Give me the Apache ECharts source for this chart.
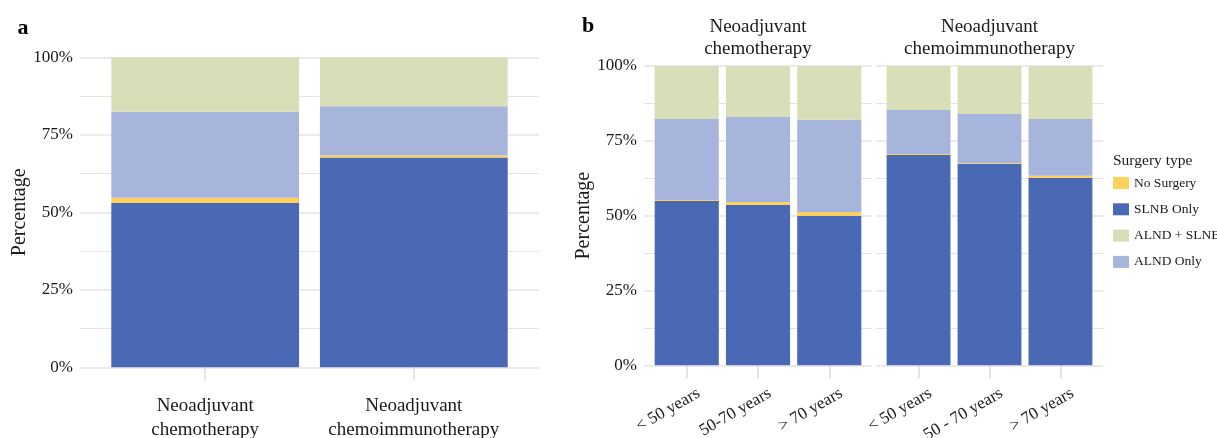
<!DOCTYPE html>
<html>
<head>
<meta charset="utf-8">
<script src="https://cdn.jsdelivr.net/npm/echarts@6/dist/echarts.min.js"></script>
<style>
html,body{margin:0;padding:0;background:#fff;}
#chart{width:1217px;height:438px;}
</style>
</head>
<body>
<div id="chart"></div>
<script>
// ---- Data ----
const surgeryTypes = ['No Surgery', 'SLNB Only', 'ALND + SLNB', 'ALND Only'];
const yTicks = [0, 25, 50, 75, 100];

// Panel a
const treatmentCats = ['Neoadjuvant\nchemotherapy', 'Neoadjuvant\nchemoimmunotherapy'];
const slnbA = [53.0, 67.7];
const noSurgeryA = [1.7, 0.7];
const alndOnlyA = [27.7, 15.8];
const alndSlnbA = [17.6, 15.8];

// Panel b
const facetTitles = ['Neoadjuvant\nchemotherapy', 'Neoadjuvant\nchemoimmunotherapy'];
const ageCatsChemo = ['< 50 years', '50-70 years', '> 70 years'];
const slnbChemo = [54.9, 53.6, 50.0];
const noSurgeryChemo = [0.3, 1.0, 1.2];
const alndOnlyChemo = [27.1, 28.4, 30.8];
const alndSlnbChemo = [17.7, 17.0, 18.0];

const ageCatsImmuno = ['< 50 years', '50 - 70 years', '> 70 years'];
const slnbImmuno = [70.3, 67.3, 62.6];
const noSurgeryImmuno = [0.3, 0.3, 0.7];
const alndOnlyImmuno = [14.7, 16.4, 19.0];
const alndSlnbImmuno = [14.7, 16.0, 17.7];

// ---- Styles ----
const FONT = 'Liberation Serif';
const colors = {
  'No Surgery': '#FFD15C',
  'SLNB Only': '#4A69B5',
  'ALND + SLNB': '#D8DFB8',
  'ALND Only': '#A7B5DC'
};
const textColor = '#1a1a1a';

const chart = echarts.init(document.getElementById('chart'), null, {renderer: 'canvas'});

function bgY(gridIndex, showLabels, showName, nameGap) {
  return {
    type: 'value', gridIndex: gridIndex, min: yTicks[0], max: yTicks[yTicks.length - 1], interval: 25,
    axisLine: {show: false}, axisTick: {show: false},
    axisLabel: {show: showLabels, formatter: '{value}%', fontFamily: FONT, fontSize: 17, color: textColor, margin: 7},
    splitLine: {show: true, lineStyle: {color: '#ebebeb', width: 2}},
    minorTick: {show: false, splitNumber: 2},
    minorSplitLine: {show: true, lineStyle: {color: '#e4e4e4', width: 1}},
    name: showName ? 'Percentage' : '', nameLocation: 'middle', nameGap: nameGap,
    nameTextStyle: {fontFamily: FONT, fontSize: 20, color: textColor}
  };
}
function barY(gridIndex) {
  return {type: 'value', gridIndex: gridIndex, min: 0, max: 100, show: false, splitLine: {show: false}};
}
function bgX(gridIndex) {
  return {type: 'value', gridIndex: gridIndex, min: 0, max: 1, show: false, splitLine: {show: false}};
}
function barX(gridIndex, cats, rotated) {
  const lbl = rotated
    ? {fontFamily: FONT, fontSize: 17, color: textColor, rotate: 30, margin: 24, align: 'right', verticalAlign: 'top', interval: 0, padding: [0, -9, 0, 0]}
    : {fontFamily: FONT, fontSize: 19, color: textColor, margin: 27, lineHeight: 23.5, interval: 0};
  return {
    type: 'category', gridIndex: gridIndex, data: cats, boundaryGap: true,
    axisLine: {show: false},
    axisTick: {show: true, alignWithLabel: true, length: 13, lineStyle: {color: '#dcdcdc', width: 1.5}},
    axisLabel: lbl,
    splitLine: {show: false}
  };
}

function makeSeries(axisIdx, slnb, noS, alndOnly, alndSlnb, stackId) {
  const order = [['SLNB Only', slnb], ['No Surgery', noS], ['ALND Only', alndOnly], ['ALND + SLNB', alndSlnb]];
  return order.map(([name, data]) => ({
    name: name, type: 'bar', stack: stackId,
    xAxisIndex: axisIdx, yAxisIndex: axisIdx,
    data: data, barWidth: '90%',
    itemStyle: {color: colors[name]},
    emphasis: {disabled: true},
    animation: false
  }));
}

// panel geometry (ggplot-like discrete expansion of 0.6 units)
const aLeft = 80, aWidth = 459, aTop = 57.3, aHeight = 310;
const aUnit = aWidth / (treatmentCats.length + 0.2);
const bTop = 66, bHeight = 299.3;
const b1Left = 644, b1Width = 228;
const b2Left = 876, b2Width = 227;
const b1Unit = b1Width / (ageCatsChemo.length + 0.2);
const b2Unit = b2Width / (ageCatsImmuno.length + 0.2);

function grid(left, top, width, height) {
  return {left: left, top: top, width: width, height: height, containLabel: false, outerBoundsMode: 'none'};
}

const option = {
  backgroundColor: '#fff',
  animation: false,
  title: [
    {text: 'a', left: 23, top: 17, padding: 0, textAlign: 'center', textStyle: {fontFamily: FONT, fontSize: 22, fontWeight: 'bold', color: '#000', lineHeight: 22}},
    {text: 'b', left: 588, top: 15.5, padding: 0, textAlign: 'center', textStyle: {fontFamily: FONT, fontSize: 22, fontWeight: 'bold', color: '#000', lineHeight: 22}},
    {text: facetTitles[0], left: b1Left + b1Width / 2, top: 15.5, padding: 0, textAlign: 'center', textStyle: {fontFamily: FONT, fontSize: 19, fontWeight: 'normal', color: textColor, lineHeight: 22.5}},
    {text: facetTitles[1], left: b2Left + b2Width / 2, top: 15.5, padding: 0, textAlign: 'center', textStyle: {fontFamily: FONT, fontSize: 19, fontWeight: 'normal', color: textColor, lineHeight: 22.5}},
    {text: 'Surgery type', left: 1113, top: 151.5, padding: 0, textStyle: {fontFamily: FONT, fontSize: 15.5, fontWeight: 'normal', color: textColor, lineHeight: 18}}
  ],
  legend: {
    orient: 'vertical', left: 1113, top: 176, padding: 0,
    data: surgeryTypes, icon: 'rect', itemWidth: 16, itemHeight: 12, itemGap: 12.3,
    textStyle: {fontFamily: FONT, fontSize: 13.5, color: textColor},
    selectedMode: false
  },
  grid: [
    grid(aLeft, aTop, aWidth, aHeight),
    grid(aLeft + 0.1 * aUnit, aTop, aUnit * treatmentCats.length, aHeight),
    grid(b1Left, bTop, b1Width, bHeight),
    grid(b1Left + 0.1 * b1Unit, bTop, b1Unit * ageCatsChemo.length, bHeight),
    grid(b2Left, bTop, b2Width, bHeight),
    grid(b2Left + 0.1 * b2Unit, bTop, b2Unit * ageCatsImmuno.length, bHeight)
  ],
  xAxis: [
    bgX(0), barX(1, treatmentCats, false),
    bgX(2), barX(3, ageCatsChemo, true),
    bgX(4), barX(5, ageCatsImmuno, true)
  ],
  yAxis: [
    bgY(0, true, true, 50), barY(1),
    bgY(2, true, true, 49), barY(3),
    bgY(4, false, false, 0), barY(5)
  ],
  series: [].concat(
    makeSeries(1, slnbA, noSurgeryA, alndOnlyA, alndSlnbA, 'a'),
    makeSeries(3, slnbChemo, noSurgeryChemo, alndOnlyChemo, alndSlnbChemo, 'b1'),
    makeSeries(5, slnbImmuno, noSurgeryImmuno, alndOnlyImmuno, alndSlnbImmuno, 'b2')
  )
};
chart.setOption(option);
</script>
</body>
</html>
